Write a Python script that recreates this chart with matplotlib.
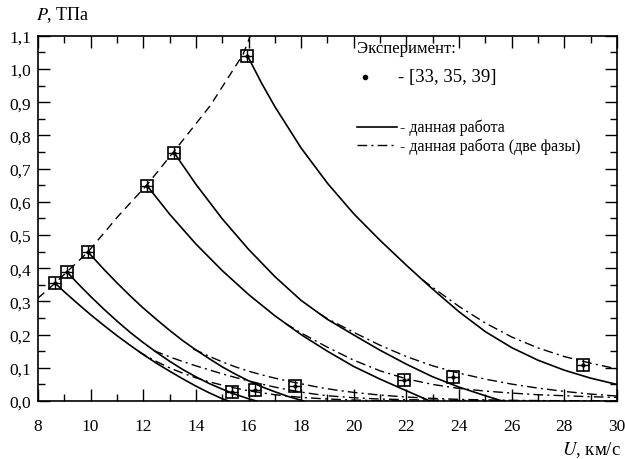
import numpy as np
import matplotlib
matplotlib.use("Agg")
from matplotlib import pyplot as plt
from matplotlib.ticker import MultipleLocator, FuncFormatter

plt.rcParams['font.family'] = ['Liberation Serif', 'DejaVu Serif']
plt.rcParams['mathtext.fontset'] = 'stix'

# experiment: start points (on the Hugoniot) and release points
exp_u = [8.65, 9.1, 9.9, 12.15, 13.18, 15.96, 15.38, 16.26, 17.75, 21.9, 23.76, 28.71]
exp_p = [0.355, 0.389, 0.449, 0.648, 0.747, 1.04, 0.027, 0.033, 0.045, 0.063, 0.072, 0.108]

# Hugoniot (dashed)
hug_u = [8.0, 8.65, 9.1, 9.9, 11.05, 12.15, 13.2, 14.55, 15.8, 16.07]
hug_p = [0.31, 0.355, 0.389, 0.449, 0.557, 0.652, 0.755, 0.89, 1.045, 1.1]

# release curves, this work (solid)
a_u = [8.65, 9.0, 9.5, 10.0, 10.5, 11.0, 11.5, 12.0, 12.5, 13.0, 13.5, 14.0, 14.5, 15.0, 15.25]
a_p = [0.355, 0.329, 0.294, 0.26, 0.228, 0.197, 0.168, 0.14, 0.114, 0.09, 0.067, 0.045, 0.025, 0.007, 0.0]
b_u = [9.1, 9.5, 10.0, 10.5, 11.0, 11.5, 12.0, 12.5, 13.0, 13.5, 14.0, 14.5, 15.0, 15.5, 16.0, 16.3]
b_p = [0.389, 0.355, 0.315, 0.277, 0.241, 0.207, 0.176, 0.147, 0.12, 0.095, 0.073, 0.053, 0.036, 0.02, 0.007, 0.0]
c_u = [9.9, 10.5, 11.0, 11.5, 12.0, 12.5, 13.0, 13.5, 14.0, 14.5, 15.0, 15.5, 16.0, 16.5, 17.0, 17.5, 18.1]
c_p = [0.449, 0.397, 0.356, 0.317, 0.28, 0.246, 0.213, 0.182, 0.154, 0.128, 0.103, 0.081, 0.061, 0.043, 0.028, 0.014, 0.0]
d_u = [12.15, 13.0, 14.0, 15.0, 16.0, 17.0, 18.0, 19.0, 20.0, 21.0, 22.0, 22.9]
d_p = [0.648, 0.563, 0.473, 0.393, 0.321, 0.257, 0.2, 0.15, 0.104, 0.066, 0.031, 0.0]
e_u = [13.18, 14.0, 15.0, 16.0, 17.0, 18.0, 19.0, 20.0, 21.0, 22.0, 23.0, 24.0, 25.0, 25.65]
e_p = [0.747, 0.653, 0.549, 0.457, 0.375, 0.303, 0.246, 0.199, 0.153, 0.111, 0.073, 0.042, 0.016, 0.0]
f_u = [15.96, 16.5, 17.0, 18.0, 19.0, 20.0, 21.0, 22.0, 23.0, 24.0, 25.0, 26.0, 27.0, 28.0, 29.0, 30.0]
f_p = [1.04, 0.957, 0.887, 0.762, 0.656, 0.564, 0.484, 0.409, 0.337, 0.269, 0.209, 0.161, 0.123, 0.093, 0.069, 0.05]

# release curves, two phases (dash-dot)
a2_u = [11.8, 12.0, 12.5, 13.0, 13.5, 14.0, 14.5, 15.0, 15.5, 16.0, 16.5, 17.0, 17.5, 18.0, 19.0, 20.0, 21.0, 22.0]
a2_p = [0.151, 0.141, 0.119, 0.1, 0.084, 0.07, 0.058, 0.048, 0.039, 0.031, 0.025, 0.019, 0.015, 0.011, 0.006, 0.003, 0.001, 0.0]
b2_u = [12.4, 13.0, 13.5, 14.0, 14.5, 15.0, 15.5, 16.0, 16.5, 17.0, 17.5, 18.0, 18.5, 19.0, 20.0, 21.0, 22.0, 24.0, 27.0, 30.0]
b2_p = [0.152, 0.133, 0.119, 0.106, 0.094, 0.082, 0.071, 0.061, 0.051, 0.042, 0.034, 0.027, 0.021, 0.016, 0.01, 0.006, 0.004, 0.002, 0.001, 0.0]
c2_u = [13.9, 14.5, 15.0, 15.5, 16.0, 16.5, 17.0, 17.5, 18.0, 18.5, 19.0, 19.5, 20.0, 21.0, 22.0, 23.0, 24.0, 26.0, 28.0, 30.0]
c2_p = [0.157, 0.135, 0.118, 0.103, 0.09, 0.079, 0.069, 0.06, 0.052, 0.044, 0.037, 0.031, 0.026, 0.018, 0.012, 0.008, 0.005, 0.002, 0.001, 0.0]
d2_u = [17.4, 18.0, 19.0, 20.0, 21.0, 22.0, 23.0, 24.0, 25.0, 26.0, 27.0, 28.0, 29.0, 30.0]
d2_p = [0.234, 0.205, 0.162, 0.123, 0.091, 0.067, 0.05, 0.038, 0.03, 0.024, 0.019, 0.016, 0.013, 0.011]
e2_u = [18.7, 19.0, 20.0, 21.0, 22.0, 23.0, 24.0, 25.0, 26.0, 27.0, 28.0, 29.0, 30.0]
e2_p = [0.263, 0.248, 0.207, 0.168, 0.134, 0.106, 0.084, 0.066, 0.051, 0.039, 0.029, 0.021, 0.015]
f2_u = [22.6, 23.0, 24.0, 25.0, 26.0, 27.0, 28.0, 29.0, 30.0]
f2_p = [0.366, 0.342, 0.285, 0.235, 0.193, 0.16, 0.134, 0.114, 0.097]

solid = [(a_u, a_p), (b_u, b_p), (c_u, c_p), (d_u, d_p), (e_u, e_p), (f_u, f_p)]
twoph = [(a2_u, a2_p), (b2_u, b2_p), (c2_u, c2_p), (d2_u, d2_p), (e2_u, e2_p), (f2_u, f2_p)]

DD = (7, 3, 1.5, 3)
lw = 1.2

fig = plt.figure(figsize=(6.25, 4.6), dpi=100)
ax = fig.add_axes([0.0608, 0.126, 0.9262, 0.794])

ax.plot(hug_u, hug_p, color='k', lw=1.0, dashes=(6, 4))
for u, p in solid:
    ax.plot(u, p, color='k', lw=lw, solid_joinstyle='round')
for u, p in twoph:
    ax.plot(u, p, color='k', lw=1.0, dashes=DD)

ax.plot(exp_u, exp_p, ls='none', marker='s', ms=9, mfc='none', mec='k', mew=1.2)
ax.plot(exp_u, exp_p, ls='none', marker='+', ms=9, mec='k', mew=1.0)
ax.plot(exp_u, exp_p, ls='none', marker='o', ms=2, color='k')

ax.set_xlim(8, 30)
ax.set_ylim(0, 1.1)
ax.xaxis.set_major_locator(MultipleLocator(2))
ax.xaxis.set_minor_locator(MultipleLocator(1))
ax.yaxis.set_major_locator(MultipleLocator(0.1))
ax.yaxis.set_minor_locator(MultipleLocator(0.05))
ax.yaxis.set_major_formatter(FuncFormatter(lambda v, pos: ('%.1f' % v).replace('.', ',')))
ax.tick_params(which='both', direction='in', top=True, right=True, width=1.0, labelsize=12.5)
ax.tick_params(which='major', length=8.5)
ax.tick_params(which='minor', length=5)
ax.tick_params(axis='x', pad=12)
ax.tick_params(axis='y', pad=5)
for s in ax.spines.values():
    s.set_linewidth(1.2)

fig.text(0.058, 0.968, r'$P$, ТПа', fontsize=13, ha='left', va='center')
fig.text(0.993, 0.022, r'$U$, км/с', fontsize=13.5, ha='right', va='center')

# legend drawn by hand
ax.text(0.551, 0.967, 'Эксперимент:', transform=ax.transAxes, fontsize=12, va='center')
ax.plot([0.565], [0.888], transform=ax.transAxes, marker='o', ms=3, color='k')
ax.text(0.622, 0.888, '- [33, 35, 39]', transform=ax.transAxes, fontsize=13.5, va='center')
ax.plot([0.551, 0.62], [0.75, 0.75], transform=ax.transAxes, color='k', lw=lw)
ax.text(0.625, 0.75, '- данная работа', transform=ax.transAxes, fontsize=11.5, va='center')
ax.plot([0.551, 0.62], [0.70, 0.70], transform=ax.transAxes, color='k', lw=1.0, dashes=DD)
ax.text(0.625, 0.70, '- данная работа (две фазы)', transform=ax.transAxes, fontsize=11.5, va='center')

fig.savefig('out.png', dpi=100)
